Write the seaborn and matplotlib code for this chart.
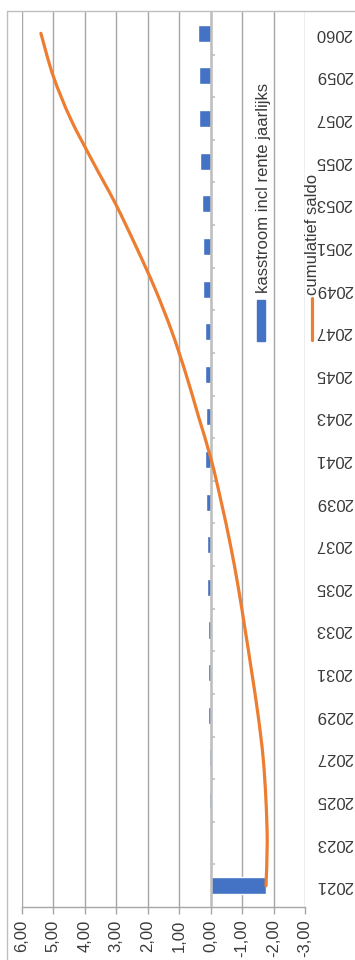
import numpy as np
import pandas as pd
import matplotlib
matplotlib.use("Agg")
import matplotlib.pyplot as plt
import seaborn as sns
from matplotlib.lines import Line2D
from matplotlib.patches import Rectangle, PathPatch
from matplotlib.path import Path
from matplotlib.ticker import FuncFormatter

# Years on the category axis
years = ["2021", "2023", "2025", "2027", "2029", "2031", "2033", "2035", "2037",
         "2039", "2041", "2043", "2045", "2047", "2049", "2051", "2053", "2055",
         "2057", "2059", "2060"]

# Annual cash flow including interest
kasstroom = [-1.76, 0.02, 0.04, 0.05, 0.08, 0.08, 0.09, 0.12, 0.12, 0.13, 0.17,
             0.16, 0.19, 0.19, 0.23, 0.23, 0.28, 0.32, 0.37, 0.37, 0.41]

# Cumulative balance
cumulatief = [-1.76, -1.80, -1.76, -1.67, -1.51, -1.31, -1.10, -0.88, -0.63,
              -0.34, -0.02, 0.38, 0.78, 1.23, 1.76, 2.37, 3.02, 3.75, 4.45,
              5.00, 5.39]

value_ticks = [-3, -2, -1, 0, 1, 2, 3, 4, 5, 6]

legend_labels = ["kasstroom incl rente jaarlijks", "cumulatief saldo"]

BLUE = "#4472C4"
ORANGE = "#ED7D31"
GRID = "#a6a6a6"
TEXT = "#3a3a3a"


def smooth_path(xs, ys):
    """Cubic Bezier path through the points (Catmull-Rom style tangents)."""
    pts = np.column_stack([xs, ys]).astype(float)
    n = len(pts)
    verts = [pts[0]]
    codes = [Path.MOVETO]
    for i in range(n - 1):
        p0 = pts[i - 1] if i > 0 else pts[i]
        p1, p2 = pts[i], pts[i + 1]
        p3 = pts[i + 2] if i + 2 < n else pts[i + 1]
        verts += [p1 + (p2 - p0) / 6, p2 - (p3 - p1) / 6, p2]
        codes += [Path.CURVE4] * 3
    return Path(verts, codes)


sns.set_theme(style="white")
plt.rcParams["font.family"] = ["Liberation Sans", "DejaVu Sans"]

W_PX, H_PX = 355, 960
fig = plt.figure(figsize=(W_PX / 100, H_PX / 100), dpi=100)

left, right = 21.7, 305.0
top, bottom = 12.0, 907.0
ax = fig.add_axes([left / W_PX, 1 - bottom / H_PX,
                   (right - left) / W_PX, (bottom - top) / H_PX])

df = pd.DataFrame({"jaar": years, "kasstroom": kasstroom,
                   "saldo": cumulatief, "pos": np.arange(len(years))})

sns.barplot(data=df, x="kasstroom", y="jaar", orient="h", color=BLUE,
            saturation=1, width=0.4, ax=ax, zorder=2)

# smoothed cumulative balance line
ax.add_patch(PathPatch(smooth_path(df["saldo"], df["pos"]), facecolor="none",
                       edgecolor=ORANGE, lw=2.3, capstyle="round", zorder=4))

ax.set_xlim(6, -3)
ax.set_ylim(-0.5, len(years) - 0.5)

# value axis (drawn along the bottom)
ax.set_xticks(value_ticks)
ax.xaxis.set_major_formatter(FuncFormatter(lambda v, _: f"{v:.2f}".replace(".", ",")))
ax.tick_params(axis="x", bottom=True, length=5, width=1, color=GRID, pad=4,
               labelsize=12, labelcolor=TEXT, labelrotation=90)
ax.grid(axis="x", color=GRID, lw=1.0)
ax.grid(axis="y", visible=False)
ax.set_axisbelow(True)

# category axis: labels on the right, upside down
ax.yaxis.tick_right()
ax.set_yticks(df["pos"])
ax.set_yticklabels(years, rotation=180, va="center")
ax.tick_params(axis="y", length=0, pad=7.5, labelsize=12, labelcolor=TEXT)

# category axis line at zero with tick marks between categories
ax.axvline(0, color="#bfbfbf", lw=1.8, zorder=3)
ax.hlines(np.arange(len(years) - 1) + 0.5, 0, -0.13, color="#bfbfbf", lw=1.2, zorder=3)

for side in ["left", "right", "top"]:
    ax.spines[side].set_visible(False)
ax.spines["bottom"].set_color(GRID)
ax.spines["bottom"].set_linewidth(1.0)
ax.set_xlabel("")
ax.set_ylabel("")

# chart area border
bx = 7 / W_PX
by = 1 - 11 / H_PX
fig.add_artist(Line2D([bx, bx], [0, by], transform=fig.transFigure, color="#bfbfbf", lw=1))
fig.add_artist(Line2D([bx, 1], [by, by], transform=fig.transFigure, color="#bfbfbf", lw=1))

# legend
fig.add_artist(Rectangle((256.7 / W_PX, 1 - 341 / H_PX), 8.3 / W_PX, 41 / H_PX,
                         transform=fig.transFigure, color=BLUE))
fig.text(263.3 / W_PX, 1 - 293 / H_PX, legend_labels[0], rotation=90,
         ha="center", va="bottom", fontsize=12, color=TEXT)
fig.add_artist(Line2D([312 / W_PX] * 2, [1 - 340 / H_PX, 1 - 298 / H_PX],
                      transform=fig.transFigure, color=ORANGE, lw=2.3))
fig.text(312.5 / W_PX, 1 - 295 / H_PX, legend_labels[1], rotation=90,
         ha="center", va="bottom", fontsize=12, color=TEXT)

fig.savefig("out.png", dpi=100)
